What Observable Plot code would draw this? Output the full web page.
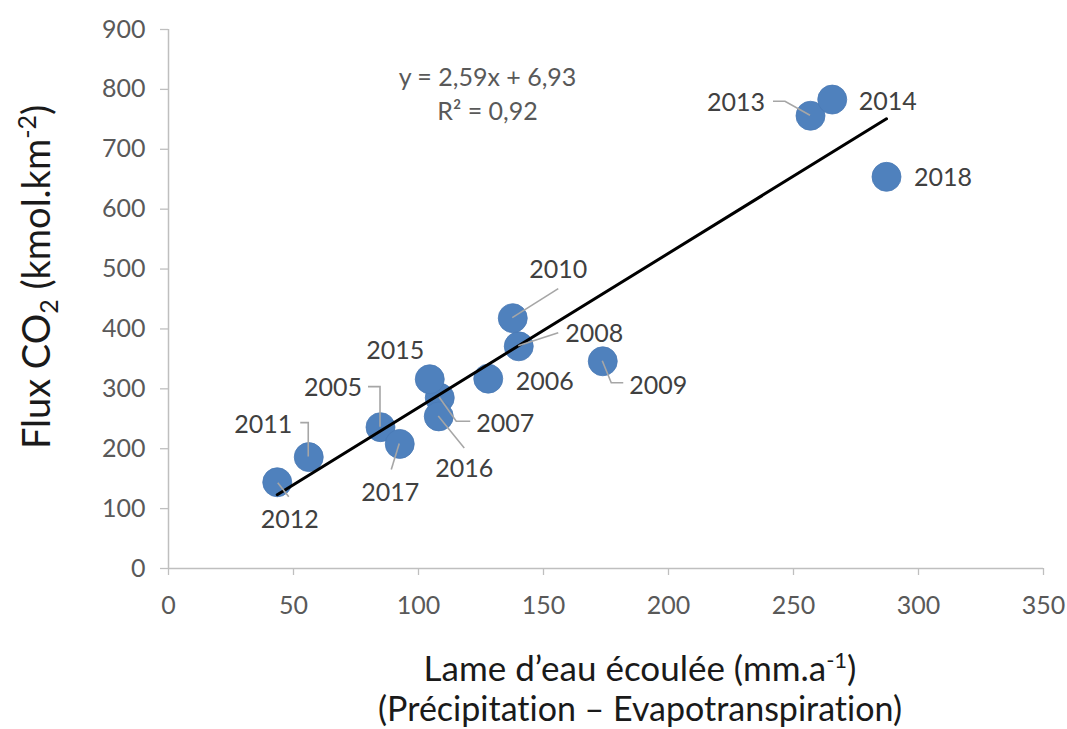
<!DOCTYPE html>
<html>
<head>
<meta charset="utf-8">
<script src="https://cdn.jsdelivr.net/npm/d3@7"></script>
<script src="https://cdn.jsdelivr.net/npm/@observablehq/plot@0.6"></script>
<style>
  html, body { margin: 0; padding: 0; background: #ffffff; }
  #chart { width: 1067px; height: 729px; }
  svg text { font-variant-ligatures: none; }
</style>
</head>
<body>
<div id="chart"></div>
<script>
// ---- Data ----
const years   = ["2005","2006","2007","2008","2009","2010","2011","2012","2013","2014","2015","2016","2017","2018"];
const runoff  = [84.8, 127.9, 108.5, 140.1, 173.7, 137.7, 56.1, 43.5, 256.8, 265.5, 104.5, 108.1, 92.5, 287.2]; // mm.a-1
const fluxCO2 = [236, 317, 285, 371, 346, 418, 186, 144, 756, 783, 316, 254, 208, 654];                      // kmol.km-2
const xTicks  = [0, 50, 100, 150, 200, 250, 300, 350];
const yTicks  = [0, 100, 200, 300, 400, 500, 600, 700, 800, 900];
const equationLines = ["y = 2,59x + 6,93", "R² = 0,92"];

// ---- Label layout (pixel offsets from the point, text centre + leader polyline) ----
const labelLayout = {
  "2005": {dx: -47, dy: -39, leader: [[0,0],[0,-40],[-12,-40]]},
  "2006": {dx: 57,  dy: 3,   leader: null},
  "2007": {dx: 66,  dy: 26,  leader: [[0,0],[17,24],[31,24]]},
  "2008": {dx: 76,  dy: -13, leader: [[0,0],[40,-13]]},
  "2009": {dx: 56,  dy: 24,  leader: [[0,0],[9,22],[21,22]]},
  "2010": {dx: 46,  dy: -48, leader: [[0,0],[46,-29]]},
  "2011": {dx: -45, dy: -32, leader: [[0,0],[0,-34],[-8,-34]]},
  "2012": {dx: 13,  dy: 37,  leader: [[1,1],[12,15]]},
  "2013": {dx: -74, dy: -13, leader: [[0,0],[-25,-14],[-37,-14]]},
  "2014": {dx: 56,  dy: 2,   leader: null},
  "2015": {dx: -34, dy: -29, leader: null},
  "2016": {dx: 26,  dy: 52,  leader: [[0,0],[26,32]]},
  "2017": {dx: -9,  dy: 49,  leader: [[0,0],[-8,26]]},
  "2018": {dx: 57,  dy: 1,   leader: null}
};

const data = years.map((yr, i) => ({year: yr, x: runoff[i], y: fluxCO2[i]}));

const FONT = "Lato, 'Open Sans', sans-serif";
const axisGray = "#bfbfbf";

const chart = Plot.plot({
  width: 1067,
  height: 729,
  marginLeft: 168,
  marginRight: 24,
  marginTop: 29,
  marginBottom: 161,
  style: {fontFamily: FONT, fontSize: "25px", background: "#ffffff", color: "#595959"},
  x: {domain: [0, 350]},
  y: {domain: [0, 900]},
  marks: [
    Plot.axisX({ticks: xTicks, tickSize: 7, tickPadding: 21, stroke: axisGray, fill: "#595959", label: null, strokeWidth: 1.3}),
    Plot.axisY({ticks: yTicks, tickSize: 8, tickPadding: 15, stroke: axisGray, fill: "#595959", label: null, strokeWidth: 1.3}),
    Plot.ruleY([0], {stroke: axisGray, strokeWidth: 1.5}),
    Plot.ruleX([0], {stroke: axisGray, strokeWidth: 1.5}),
    Plot.dot(data, {x: "x", y: "y", r: 14.5, fill: "#4f81bd", stroke: "#4a7ab5", strokeWidth: 0.8}),
    Plot.linearRegressionY(data, {x: "x", y: "y", ci: 0, stroke: "#000000", strokeWidth: 3}),
    Plot.text([equationLines.join("\n")], {frameAnchor: "top-left", dx: 319, dy: 32, textAnchor: "middle", lineAnchor: "top", lineHeight: 1.36, fill: "#595959", fontSize: 25})
  ]
});

document.getElementById("chart").appendChild(chart);

// ---- Leader lines and data labels, positioned through Plot's scales ----
const sx = chart.scale("x"), sy = chart.scale("y");
const svg = d3.select(chart);
const gL = svg.append("g").attr("fill", "none").attr("stroke", "#a6a6a6").attr("stroke-width", 1.6);
const gT = svg.append("g").attr("font-family", FONT).attr("font-size", 25).attr("fill", "#404040").attr("text-anchor", "middle");
data.forEach(d => {
  const px = sx.apply(d.x), py = sy.apply(d.y);
  const lay = labelLayout[d.year];
  if (lay.leader) {
    gL.append("polyline").attr("points", lay.leader.map(([ox, oy]) => `${px + ox},${py + oy}`).join(" "));
  }
  gT.append("text").attr("x", px + lay.dx).attr("y", py + lay.dy).attr("dy", "0.35em").text(d.year);
});

// ---- Axis titles ----
const yTitle = svg.append("text")
  .attr("transform", "translate(50,277) rotate(-90)")
  .attr("text-anchor", "middle")
  .attr("font-family", FONT).attr("font-size", 38).attr("fill", "#1a1a1a");
yTitle.append("tspan").text("Flux CO");
yTitle.append("tspan").attr("font-size", 25).attr("dy", 8).text("2");
yTitle.append("tspan").attr("dy", -8).text(" (kmol.km");
yTitle.append("tspan").attr("font-size", 25).attr("dy", -14).text("-2");
yTitle.append("tspan").attr("dy", 14).text(")");

const xTitle1 = svg.append("text")
  .attr("x", 640).attr("y", 681)
  .attr("text-anchor", "middle")
  .attr("font-family", FONT).attr("font-size", 35).attr("fill", "#1a1a1a");
xTitle1.append("tspan").text("Lame d’eau écoulée (mm.a");
xTitle1.append("tspan").attr("font-size", 22).attr("dy", -13).text("-1");
xTitle1.append("tspan").attr("dy", 13).text(")");

svg.append("text")
  .attr("x", 640).attr("y", 721)
  .attr("text-anchor", "middle")
  .attr("font-family", FONT).attr("font-size", 34).attr("fill", "#1a1a1a")
  .text("(Précipitation – Evapotranspiration)");
</script>
</body>
</html>
